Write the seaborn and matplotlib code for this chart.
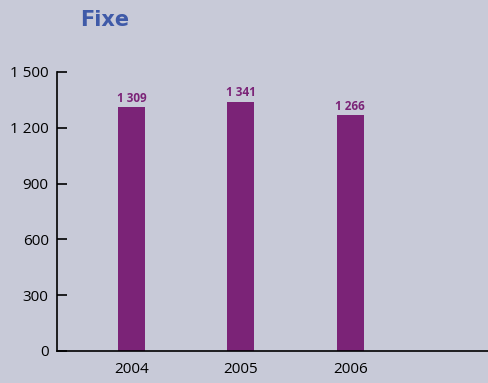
import matplotlib
matplotlib.use("Agg")
import matplotlib.pyplot as plt
import seaborn as sns
import pandas as pd

BG_COLOR = "#C8CAD8"
BAR_COLOR = "#7B2377"
TITLE_COLOR = "#3F5AA8"

years = ["2004", "2005", "2006"]
values = [1309, 1341, 1266]
value_labels = ["1 309", "1 341", "1 266"]
y_ticks = [0, 300, 600, 900, 1200, 1500]
y_tick_labels = ["0", "300", "600", "900", "1 200", "1 500"]

sns.set_theme(style="ticks")
plt.rcParams["font.family"] = ["Open Sans", "DejaVu Sans"]

df = pd.DataFrame({"year": years, "value": values})

fig = plt.figure(figsize=(4.89, 3.83), dpi=100)
fig.patch.set_facecolor(BG_COLOR)
ax = fig.add_axes([0.1166, 0.0836, 0.8834, 0.7285])
ax.set_facecolor(BG_COLOR)

sns.barplot(data=df, x="year", y="value", color=BAR_COLOR, width=0.247,
            saturation=1, linewidth=0, ax=ax)

# value labels above bars
for i, (v, lab) in enumerate(zip(values, value_labels)):
    ax.text(i, v + 12, lab, ha="center", va="bottom", fontsize=8.5,
            fontweight="bold", color=BAR_COLOR)

ax.set_xlim(-0.682, 3.27)
ax.set_ylim(0, 1500)
ax.set_yticks(y_ticks)
ax.set_yticklabels(y_tick_labels)
ax.set_xlabel("")
ax.set_ylabel("")

ax.spines["top"].set_visible(False)
ax.spines["right"].set_visible(False)
ax.spines["left"].set_color("black")
ax.spines["bottom"].set_color("black")
ax.spines["left"].set_linewidth(1.2)
ax.spines["bottom"].set_linewidth(1.2)

ax.tick_params(axis="y", direction="in", length=7, width=1.2, pad=6,
               labelsize=11, colors="black")
ax.tick_params(axis="x", length=0, pad=8, labelsize=11, colors="black")

fig.text(0.163, 0.948, "Fixe", fontsize=15, fontweight="bold",
         color=TITLE_COLOR, ha="left", va="center",
         family=["DejaVu Sans"])

fig.savefig("out.png", dpi=100, facecolor=BG_COLOR)
